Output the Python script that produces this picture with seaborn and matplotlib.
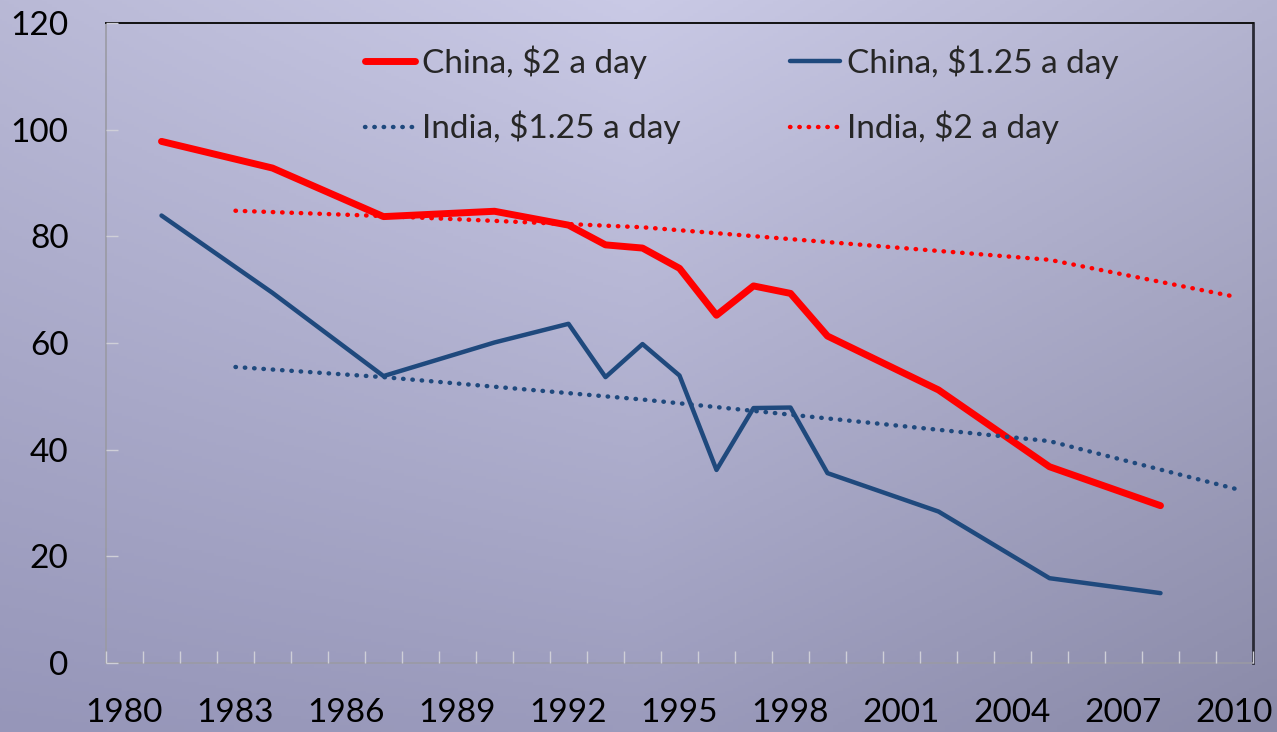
import numpy as np
import pandas as pd
import matplotlib
matplotlib.use("Agg")
import matplotlib.pyplot as plt
from matplotlib.ticker import FixedLocator
import seaborn as sns

# ---- data ----
china_years = [1981, 1984, 1987, 1990, 1992, 1993, 1994, 1995, 1996, 1997, 1998, 1999, 2002, 2005, 2008]
china_2 = [97.8, 92.8, 83.7, 84.7, 82.1, 78.4, 77.8, 74.0, 65.2, 70.7, 69.3, 61.3, 51.2, 36.8, 29.5]
china_125 = [83.9, 69.4, 53.8, 60.1, 63.6, 53.6, 59.8, 53.9, 36.2, 47.8, 47.9, 35.6, 28.4, 15.9, 13.1]
india_years = [1983, 1987, 1994, 2005, 2010]
india_125 = [55.5, 53.6, 49.4, 41.6, 32.7]
india_2 = [84.8, 83.8, 81.7, 75.6, 68.7]

year_labels = list(range(1980, 2011, 3))
y_ticks = [0, 20, 40, 60, 80, 100, 120]

sns.set_theme(style="white")
plt.rcParams["font.family"] = ["Lato", "DejaVu Sans"]

fig = plt.figure(figsize=(12.77, 7.32), dpi=100)

# background gradient
bg = fig.add_axes([0, 0, 1, 1], zorder=-10)
grid = np.array([
    [[185, 185, 214], [202, 202, 230], [180, 180, 208]],
    [[150, 150, 185], [155, 155, 188], [138, 138, 168]],
]) / 255.0
bg.imshow(grid, aspect="auto", interpolation="bilinear", extent=[-0.5, 2.5, 1.5, -0.5])
bg.set_xlim(0, 2)
bg.set_ylim(1, 0)
bg.axis("off")

ax = fig.add_axes([106 / 1277, 1 - 663 / 732, (1253 - 106) / 1277, (663 - 23) / 732])
ax.set_facecolor("none")

red = "#FF0000"
blue = "#1F497D"
dot = (0, (0.1, 2.0))

df_c = pd.DataFrame({"year": china_years, "c2": china_2, "c125": china_125})
df_i = pd.DataFrame({"year": india_years, "i125": india_125, "i2": india_2})

sns.lineplot(data=df_c, x="year", y="c2", ax=ax, color=red, linewidth=5.0,
             label="China, $2 a day", solid_capstyle="round", solid_joinstyle="round")
sns.lineplot(data=df_i, x="year", y="i125", ax=ax, color=blue, linewidth=3.2,
             linestyle=dot, dash_capstyle="round",
             label="India, $1.25 a day")
sns.lineplot(data=df_c, x="year", y="c125", ax=ax, color=blue, linewidth=3.2,
             label="China, $1.25 a day", solid_capstyle="round", solid_joinstyle="round")
sns.lineplot(data=df_i, x="year", y="i2", ax=ax, color=red, linewidth=3.2,
             linestyle=dot, dash_capstyle="round",
             label="India, $2 a day")

ax.set_xlim(1979.5, 2010.5)
ax.set_ylim(0, 120)
ax.set_xlabel("")
ax.set_ylabel("")

ax.set_xticks(year_labels)
ax.set_xticklabels([str(y) for y in year_labels])
ax.xaxis.set_minor_locator(FixedLocator(np.arange(1979.5, 2011, 1)))
ax.set_yticks(y_ticks)
ax.set_yticklabels([str(v) for v in y_ticks])

ax.tick_params(axis="x", which="major", length=0, pad=25, labelsize=24, labelcolor="black")
ax.tick_params(axis="x", which="minor", direction="in", length=8.6, width=1.0,
               color="#cfcfd8", bottom=True)
ax.tick_params(axis="y", which="major", direction="in", length=8.6, width=1.0,
               color="#cfcfd8", pad=27, labelsize=24, labelcolor="black", left=True)

for side in ["left", "bottom"]:
    ax.spines[side].set_color("#9a9aa4")
    ax.spines[side].set_linewidth(1.2)
ax.spines["top"].set_color("#111111")
ax.spines["top"].set_linewidth(1.4)
ax.spines["right"].set_color("#2a2a36")
ax.spines["right"].set_linewidth(2.0)
ax.xaxis.set_zorder(3)
ax.yaxis.set_zorder(3)

leg = ax.legend(ncol=2, loc="upper left", bbox_to_anchor=(0.1997, 1.012),
                frameon=False, fontsize=24, handlelength=1.5, handletextpad=0.2,
                columnspacing=3.3, labelspacing=0.96)

fig.savefig("out.png", dpi=100)
